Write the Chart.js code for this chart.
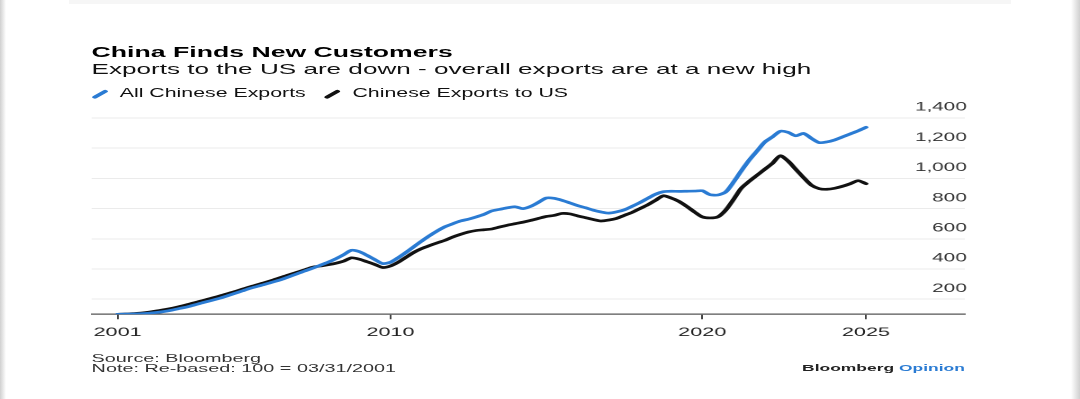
<!DOCTYPE html>
<html>
<head>
<meta charset="utf-8">
<script src="https://cdn.jsdelivr.net/npm/chart.js@4.4.1/dist/chart.umd.min.js"></script>
<style>
  html, body { margin:0; padding:0; background:#fff; width:1080px; height:399px; overflow:hidden; }
  #edgeL { position:absolute; left:0; top:0; width:6px; height:399px; background:linear-gradient(to right,#d0d0d0,#fff); }
  #edgeR { position:absolute; right:0; top:0; width:9px; height:399px; background:linear-gradient(to left,#d0d0d0,#fff); }
  #topbar { position:absolute; left:69px; top:0; width:942px; height:4px; background:#f6f6f6; }
  #stage { position:absolute; left:0; top:0; width:600px; height:399px; transform:scaleX(1.8); transform-origin:0 0;
           font-family:"Liberation Sans", Arial, Helvetica, sans-serif; }
  .t { position:absolute; white-space:nowrap; line-height:1; }
  #title { left:50.9px; top:44.5px; font-size:14.8px; font-weight:bold; color:#000; }
  #subtitle { left:50.9px; top:62px; font-size:14.5px; color:#111; }
  .lg { top:88.3px; font-size:11.85px; color:#111; }
  .mk { position:absolute; width:10.5px; height:2.6px; border-radius:1.3px; transform:rotate(-45deg); top:93.2px; }
  #src { left:50.9px; top:353px; font-size:11px; color:#333; }
  #note { left:50.9px; top:363px; font-size:11px; color:#333; }
  #brand { right:64px; top:362.5px; font-size:9.7px; font-weight:bold; color:#222; }
  #brand span { color:#2a7bd3; }
  canvas { position:absolute; left:0; top:0; }
</style>
</head>
<body>
<div id="edgeL"></div><div id="edgeR"></div><div id="topbar"></div>
<div id="stage">
  <div class="t" id="title">China Finds New Customers</div>
  <div class="t" id="subtitle">Exports to the US are down - overall exports are at a new high</div>
  <div class="mk" style="left:49.8px;background:#2a7bd3;"></div>
  <div class="t lg" style="left:66.5px;">All Chinese Exports</div>
  <div class="mk" style="left:179.2px;background:#111;"></div>
  <div class="t lg" style="left:195.8px;">Chinese Exports to US</div>
  <canvas id="chart" width="600" height="399"></canvas>
  <div class="t" id="src">Source: Bloomberg</div>
  <div class="t" id="note">Note: Re-based: 100 = 03/31/2001</div>
  <div class="t" id="brand">Bloomberg <span>Opinion</span></div>
</div>
<script>
// Quarterly observations, first at 2001-03-31 (decimal year 2001.25), one every quarter
const quarterStart = 2001.25;
const quarterStep = 0.25;

const allChineseExports = [
  100, 101, 102, 104, 107, 112, 119, 128, 139, 150, 164, 178, 191, 205, 221, 238,
  255, 272, 286, 300, 315, 330, 349, 368, 387, 405, 425, 445, 468, 495, 524, 515,
  490, 462, 436, 445, 475, 510, 548, 585, 620, 652, 680, 700, 718, 730, 745, 762,
  785, 795, 805, 812, 800, 815, 842, 870, 868, 855, 838, 820, 806, 790, 778, 770,
  778, 792, 815, 840, 868, 895, 912, 915, 914, 915, 916, 918, 892, 890, 910, 975,
  1050, 1120, 1180, 1240, 1275, 1312, 1305, 1282, 1298, 1265, 1237, 1242, 1255, 1275, 1295, 1315,
  1338
];

const chineseExportsToUS = [
  100, 102, 105, 108, 114, 122, 131, 140, 152, 165, 178, 192, 206, 220, 235, 250,
  266, 282, 297, 312, 328, 345, 362, 378, 395, 412, 420, 428, 438, 452, 474, 465,
  448, 430, 410, 420, 445, 478, 510, 535, 555, 573, 590, 612, 630, 645, 655, 660,
  665, 678, 690, 700, 710, 722, 735, 748, 755, 768, 765, 752, 740, 728, 718, 724,
  735, 755, 775, 800, 825, 855, 885, 870, 848, 815, 778, 745, 738, 745, 790, 860,
  935, 980, 1020, 1060, 1100, 1150, 1115, 1060, 1005, 955, 932, 928, 935, 948, 965, 985,
  965
];

const quarters = allChineseExports.map((_, i) => quarterStart + i * quarterStep);

const xTickValues = [2001.25, 2010, 2020, 2025.25];
const xTickLabels = ['2001', '2010', '2020', '2025'];
const yTickValues = [200, 400, 600, 800, 1000, 1200, 1400];

const toPoints = (vals) => vals.map((v, i) => ({ x: quarters[i], y: v }));

new Chart(document.getElementById('chart'), {
  type: 'line',
  data: {
    datasets: [
      { label: 'All Chinese Exports', data: toPoints(allChineseExports), borderColor: '#2a7bd3',
        borderWidth: 2.7, pointRadius: 0, tension: 0.25, borderJoinStyle: 'round', borderCapStyle: 'round' },
      { label: 'Chinese Exports to US', data: toPoints(chineseExportsToUS), borderColor: '#111111',
        borderWidth: 2.7, pointRadius: 0, tension: 0.25, borderJoinStyle: 'round', borderCapStyle: 'round' }
    ]
  },
  options: {
    responsive: false,
    animation: false,
    devicePixelRatio: 2,
    layout: { padding: { left: 50.9, right: 63.9, top: 118, bottom: 54.7 } },
    plugins: { legend: { display: false }, tooltip: { enabled: false } },
    scales: {
      x: {
        type: 'linear', min: 2000.416, max: 2028.425,
        afterFit(s) { s.height = 30; },
        afterBuildTicks(s) { s.ticks = xTickValues.map(v => ({ value: v })); },
        grid: { drawOnChartArea: false, drawTicks: true, tickLength: 5, color: '#444', lineWidth: 1 },
        border: { display: true, color: '#555', width: 1.3 },
        ticks: { autoSkip: false, maxRotation: 0, padding: 6, color: '#222',
                 font: { family: 'Liberation Sans', size: 12 },
                 callback: (v, i) => xTickLabels[i] }
      },
      y: {
        position: 'right', min: 100, max: 1400,
        afterFit(s) { s.width = 0; },
        afterBuildTicks(s) { s.ticks = yTickValues.map(v => ({ value: v })); },
        grid: { color: '#ebebeb', lineWidth: 1, drawTicks: false },
        border: { display: false },
        ticks: { mirror: true, padding: 1, labelOffset: -10.5, crossAlign: 'near', color: '#333',
                 font: { family: 'Liberation Sans', size: 11.5 },
                 callback: v => v.toLocaleString('en-US') }
      }
    }
  }
});
</script>
</body>
</html>
